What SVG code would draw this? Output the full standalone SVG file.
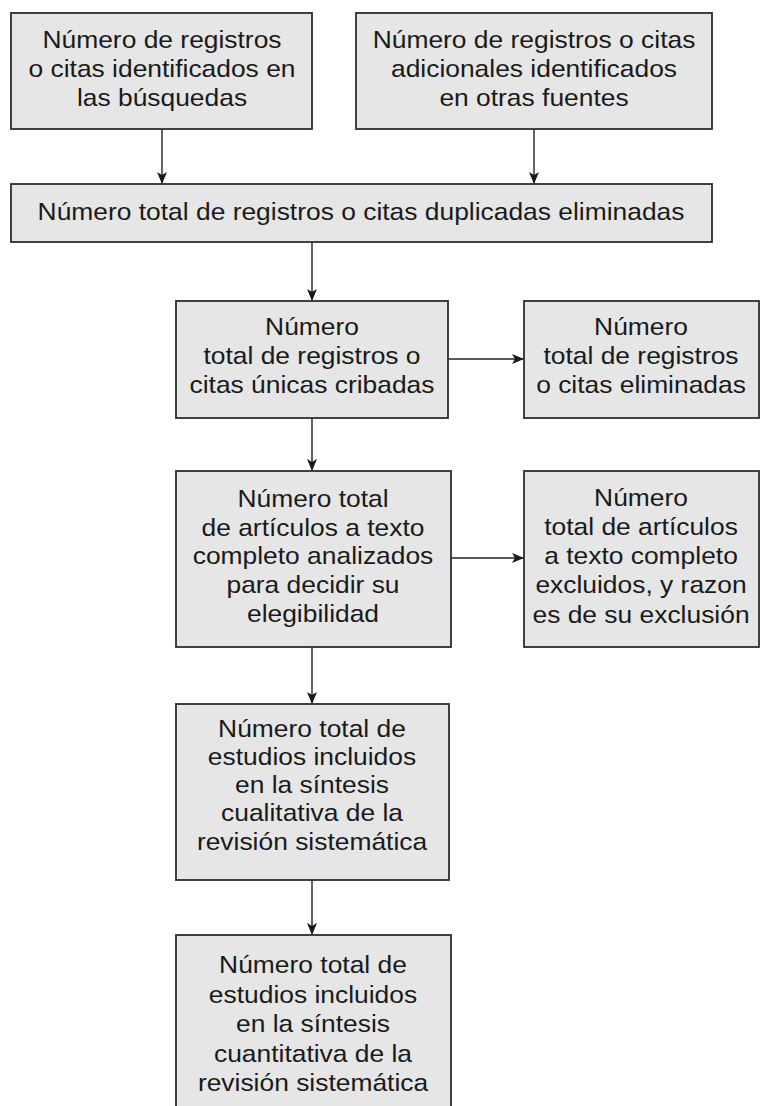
<svg xmlns="http://www.w3.org/2000/svg" width="762" height="1106" viewBox="0 0 762 1106">
<style>
.box{fill:#e6e6e6;stroke:#2e2e2e;stroke-width:1.8}
.t{font-family:"Liberation Sans",Arial,sans-serif;font-size:24px;fill:#1a1a1a;text-anchor:middle}
.c{stroke:#222222;stroke-width:1.4;fill:none;marker-end:url(#ah)}
</style>
<defs>
<marker id="ah" markerUnits="userSpaceOnUse" markerWidth="12" markerHeight="10" refX="11" refY="5" orient="auto">
<path d="M0,0 L12,5 L0,10 L3,5 z" fill="#1a1a1a"/>
</marker>
</defs>
<rect width="762" height="1106" fill="#ffffff"/>
<g id="connectors">
<line class="c" x1="162" y1="129" x2="162" y2="183"/>
<line class="c" x1="534" y1="129" x2="534" y2="183"/>
<line class="c" x1="312" y1="242" x2="312" y2="300"/>
<line class="c" x1="448" y1="359" x2="523" y2="359"/>
<line class="c" x1="312" y1="418" x2="312" y2="470"/>
<line class="c" x1="451" y1="558" x2="523" y2="558"/>
<line class="c" x1="312" y1="647" x2="312" y2="703"/>
<line class="c" x1="312" y1="880" x2="312" y2="934"/>
</g>
<g id="n1">
<rect class="box" x="11" y="13" width="301" height="116"/>
<text class="t" transform="translate(162,0) scale(1.1,1)"><tspan x="0" y="48">Número de registros</tspan><tspan x="0" y="77">o citas identificados en</tspan><tspan x="0" y="106">las búsquedas</tspan></text>
</g>
<g id="n2">
<rect class="box" x="356" y="13" width="356" height="116"/>
<text class="t" transform="translate(534,0) scale(1.1,1)"><tspan x="0" y="48">Número de registros o citas</tspan><tspan x="0" y="77">adicionales identificados</tspan><tspan x="0" y="106">en otras fuentes</tspan></text>
</g>
<g id="n3">
<rect class="box" x="11" y="184" width="701" height="58"/>
<text class="t" transform="translate(361,0) scale(1.1,1)"><tspan x="0" y="220">Número total de registros o citas duplicadas eliminadas</tspan></text>
</g>
<g id="n4">
<rect class="box" x="176" y="301" width="272" height="117"/>
<text class="t" transform="translate(312,0) scale(1.1,1)"><tspan x="0" y="335">Número</tspan><tspan x="0" y="364">total de registros o</tspan><tspan x="0" y="393">citas únicas cribadas</tspan></text>
</g>
<g id="n5">
<rect class="box" x="524" y="301" width="235" height="117"/>
<text class="t" transform="translate(641,0) scale(1.1,1)"><tspan x="0" y="335">Número</tspan><tspan x="0" y="364">total de registros</tspan><tspan x="0" y="393">o citas eliminadas</tspan></text>
</g>
<g id="n6">
<rect class="box" x="176" y="471" width="275" height="176"/>
<text class="t" transform="translate(313,0) scale(1.1,1)"><tspan x="0" y="507">Número total</tspan><tspan x="0" y="536">de artículos a texto</tspan><tspan x="0" y="564">completo analizados</tspan><tspan x="0" y="593">para decidir su</tspan><tspan x="0" y="622">elegibilidad</tspan></text>
</g>
<g id="n7">
<rect class="box" x="524" y="471" width="235" height="176"/>
<text class="t" transform="translate(641,0) scale(1.1,1)"><tspan x="0" y="506">Número</tspan><tspan x="0" y="535">total de artículos</tspan><tspan x="0" y="564">a texto completo</tspan><tspan x="0" y="593">excluidos, y razon</tspan><tspan x="0" y="623">es de su exclusión</tspan></text>
</g>
<g id="n8">
<rect class="box" x="176" y="704" width="273" height="176"/>
<text class="t" transform="translate(312,0) scale(1.1,1)"><tspan x="0" y="737">Número total de</tspan><tspan x="0" y="765">estudios incluidos</tspan><tspan x="0" y="793">en la síntesis</tspan><tspan x="0" y="821">cualitativa de la</tspan><tspan x="0" y="850">revisión sistemática</tspan></text>
</g>
<g id="n9">
<rect class="box" x="176" y="935" width="275" height="185"/>
<text class="t" transform="translate(313,0) scale(1.1,1)"><tspan x="0" y="973">Número total de</tspan><tspan x="0" y="1003">estudios incluidos</tspan><tspan x="0" y="1032">en la síntesis</tspan><tspan x="0" y="1062">cuantitativa de la</tspan><tspan x="0" y="1091">revisión sistemática</tspan></text>
</g>
</svg>
